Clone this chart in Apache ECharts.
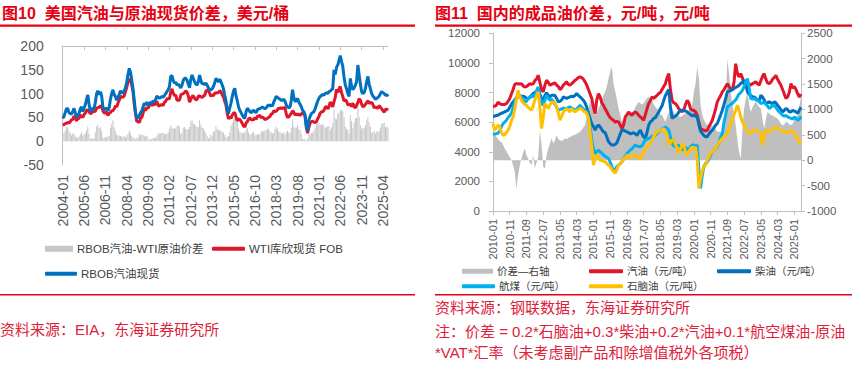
<!DOCTYPE html>
<html><head><meta charset="utf-8">
<script src="https://cdn.jsdelivr.net/npm/echarts@6/dist/echarts.min.js"></script>
<style>html,body{margin:0;padding:0;background:#fff}#c{width:854px;height:369px}</style>
</head><body><div id="c"></div>
<script>
// ---------- categories ----------
function monthLabels(y0, m0, y1, m1) {
  const out = [];
  for (let y = y0, m = m0; y < y1 || (y === y1 && m <= m1); ) {
    out.push(y + '-' + (m < 10 ? '0' + m : m));
    m++; if (m > 12) { m = 1; y++; }
  }
  return out;
}
const usMonths = monthLabels(2004, 1, 2025, 8);
const cnMonths = monthLabels(2010, 1, 2025, 5);

// ---------- Fig 10 : US gasoline vs crude, USD/bbl ----------
const rbobSpot = [
  48,52,60,68,69,60,58,57,62,69,60,50,
  55,58,68,72,62,70,76,88,97,78,62,65,
  70,68,82,100,106,98,104,95,72,66,68,70,
  64,70,88,100,108,98,94,86,92,98,106,102,
  102,106,112,125,140,153,145,128,110,85,60,48,
  50,54,60,64,72,80,76,82,76,78,82,80,
  85,82,88,95,92,90,92,94,92,96,100,104,
  108,115,136,138,128,122,124,118,120,116,112,118,
  128,132,132,128,120,112,130,139,132,125,120,118,
  125,139,128,120,122,118,122,118,112,108,108,110,
  115,122,132,128,125,130,125,118,110,97,85,66,
  58,70,80,94,105,111,95,85,72,65,60,55,
  50,48,62,69,66,62,60,63,65,62,60,66,
  68,68,70,72,70,68,70,74,76,74,76,74,
  82,88,94,92,90,88,86,86,88,84,76,72,
  70,72,86,108,92,83,86,90,82,78,72,65,
  62,55,30,22,45,52,58,60,62,68,76,84,
  90,94,96,98,97,100,102,100,104,105,108,110,
  150,140,155,160,170,180,168,157,135,118,110,100,
  94,132,115,108,112,118,125,160,140,120,104,100,
  102,110,125,136,120,110,100,95,92,88,90,92,
  95,100,104,102,100,96,98,94
];
const wtiSpot = [
  34,35,37,37,40,38,41,45,46,53,48,43,
  47,48,54,53,50,56,59,65,66,62,58,59,
  65,62,63,69,71,71,74,73,64,59,59,62,
  54,59,60,64,64,68,74,72,80,86,95,92,
  93,95,105,113,125,130,128,117,104,77,57,41,
  42,39,48,50,59,70,64,71,69,76,78,75,
  78,76,81,84,74,75,76,77,75,82,84,89,
  89,89,103,110,101,96,97,86,86,86,97,99,
  100,102,106,103,95,82,88,94,95,90,87,88,
  95,95,93,92,95,96,105,107,106,101,94,98,
  95,101,101,102,102,106,104,97,93,84,76,59,
  47,51,48,55,59,60,51,43,46,46,42,37,
  32,30,38,41,47,49,45,45,45,50,46,52,
  53,54,49,51,49,45,47,48,50,52,57,58,
  64,62,63,66,70,68,71,68,70,71,57,50,
  51,55,58,64,61,55,57,55,57,54,57,60,
  58,51,29,17,29,38,41,42,40,39,41,47,
  52,59,62,62,65,71,73,68,72,82,79,72,
  83,92,109,102,110,115,102,94,84,87,84,76,
  78,77,73,80,72,70,76,81,89,86,78,72,
  74,77,81,85,80,80,82,77,70,72,70,70,
  75,71,68,64,61,67,67,65
];
const rbobWtiSpread = [
  14,17,23,31,29,22,17,12,16,16,12,7,
  8,10,14,19,12,14,17,23,31,16,4,6,
  5,6,19,31,35,27,30,22,8,7,9,8,
  10,11,28,36,44,30,20,14,12,12,11,10,
  9,11,7,12,15,23,17,11,6,8,3,7,
  8,15,12,14,13,10,12,11,7,2,4,5,
  7,6,7,11,18,15,16,17,17,14,16,15,
  19,26,33,28,27,26,27,32,34,30,15,19,
  28,30,26,25,25,30,42,45,37,35,33,30,
  30,44,35,28,27,22,17,11,6,7,14,12,
  20,21,31,26,23,24,21,21,17,13,9,7,
  11,19,32,39,46,51,44,42,26,19,18,18,
  18,18,24,28,19,13,15,18,20,12,14,14,
  15,14,21,21,21,23,23,26,26,22,19,16,
  18,26,31,26,20,20,15,18,18,13,19,22,
  19,17,28,44,31,28,29,35,25,24,15,5,
  4,4,1,5,16,14,17,18,22,29,35,37,
  38,35,34,36,32,29,29,32,32,23,29,38,
  67,48,46,58,60,65,66,63,51,31,26,24,
  16,55,42,28,40,48,49,79,51,34,26,28,
  28,33,44,51,40,30,18,18,22,16,20,22,
  20,29,36,38,39,29,31,29
];
const usTicks = [-50, 200, 50];   // min, max, interval

// ---------- Fig 11 : China refined products, CNY/t ----------
const cnCrackSpread = [
  590,520,460,420,380,360,300,230,180,120,66,0,
  -100,-230,-560,-300,-100,33,150,230,100,33,-50,-100,
  100,-165,-50,66,590,300,-130,-165,100,230,330,430,
  330,400,490,420,395,380,400,430,420,440,460,470,
  490,500,520,540,560,600,650,690,850,1020,1150,1220,
  1000,890,950,1020,1090,1200,1280,1350,1450,1610,1750,1840,
  1500,1350,1200,1020,900,760,800,850,890,900,920,950,
  950,1050,1100,1150,1120,1100,1120,1180,1220,1250,1200,1180,
  1100,1050,1020,950,900,890,820,760,850,950,1000,1020,
  950,890,870,860,855,870,900,920,950,980,1020,1100,
  1350,1500,1840,1600,1090,900,790,740,690,690,680,690,
  650,600,560,560,560,560,800,1150,2000,1700,1350,1100,
  900,690,400,165,33,600,1020,1200,1350,1100,950,1050,
  1100,1150,1100,1050,1020,800,625,800,950,920,890,880,
  860,840,820,780,720,690,700,760,740,710,690,720,
  800,850,890,1050,1250
];
const gasoline = [
  7080,7080,7150,7350,7250,7200,7200,7200,7250,7400,7600,7900,
  8200,8550,8600,8600,8580,8600,8450,8380,8400,8500,8600,8550,
  8600,8800,8900,9170,8700,8200,8040,8500,8830,8700,8490,8550,
  8600,8650,8500,8400,8200,8300,8500,8600,8720,8550,8490,8600,
  8700,8830,8900,9000,9050,9000,8900,8720,8500,8200,7900,7600,
  7000,6580,7500,7930,7700,7300,7140,6900,6700,6470,6300,6200,
  6130,6000,6050,6020,5800,5570,5800,6360,6500,6690,6550,6470,
  6600,6690,6600,6470,6350,6250,6130,6500,6900,7260,7450,7700,
  7600,7700,7800,7930,8000,8200,8400,8600,9000,9280,8200,7480,
  7300,7260,7100,6900,6810,6700,6810,7200,7480,7300,6900,6810,
  6800,6700,6470,6000,5570,5500,5460,5400,5460,5700,5900,6130,
  6500,6900,7370,7600,7800,8040,8200,8400,8600,8400,8200,8150,
  8700,9950,9300,9050,9280,9000,8600,8380,8450,8600,8500,8600,
  8650,8720,8600,8490,8800,9100,9280,8900,8650,8600,8700,8900,
  9000,9170,8900,8700,8490,8200,7900,7600,7700,8000,8600,8300,
  8400,8200,7930,7700,7900
];
const diesel = [
  6400,6400,6450,6470,6550,6600,6630,6700,6750,6810,7000,7200,
  7370,7500,7600,7700,7750,7750,7750,7700,7600,7600,7650,7800,
  7930,8000,8100,8270,7900,7600,7480,7800,7990,7800,7700,7820,
  7820,7800,7600,7370,7400,7500,7700,7650,7600,7650,7700,7750,
  7700,7800,7930,7800,7700,7600,7480,7300,7000,6600,6250,5900,
  5700,5460,5700,5800,5680,5500,5350,5300,5000,4670,4550,4450,
  4450,4500,4600,4900,5200,5460,5460,5400,5350,5300,5200,5250,
  5300,5200,5100,5300,5460,5200,5000,4900,5300,5800,6020,6100,
  6250,6300,6500,6690,6900,7100,7480,7800,8000,8200,7000,6250,
  6360,6400,6500,6690,6750,6810,6800,6750,6690,6600,6500,6400,
  6500,6400,6360,5800,5400,5240,5100,5010,5010,5200,5350,5460,
  5600,5800,5910,6200,6500,6810,7200,7600,8040,8100,8150,8200,
  8270,8350,8400,8490,8600,8700,8830,8600,8040,7900,7800,7700,
  7700,7600,7480,7400,7820,7700,7500,7260,7300,7370,7300,7200,
  7370,7300,7140,7000,6850,6690,6800,6920,6850,6700,6690,6800,
  6750,6690,6600,6800,7000
];
const jetFuel = [
  5190,5200,5230,5250,5400,5680,5900,6000,6130,6300,6450,6580,
  7000,7400,7700,7750,7820,7700,7500,7370,7400,7600,7700,7800,
  7700,7850,8100,8380,7700,7300,7140,7500,7820,7600,7480,7550,
  7400,7200,7000,6810,6850,6900,6950,6920,6900,7000,7030,6950,
  6900,6810,6900,7000,7140,7000,6900,6810,6700,6300,5680,4800,
  4200,3890,4000,4110,4000,3900,3780,3700,3600,3550,3300,3000,
  2650,2800,3000,3100,3200,3320,3500,3700,3890,4000,4110,4200,
  4330,4450,4400,4350,4330,4400,4600,4790,4850,4900,4950,5050,
  5000,5120,5250,5350,5460,5550,5600,5680,5600,5460,5000,4560,
  4400,4330,4400,4450,4300,4110,4200,4330,4110,4200,4330,4450,
  4450,4400,4450,2800,1530,2400,3000,3210,3300,3500,3780,4000,
  4100,4200,4330,4600,5000,5240,6000,6500,7030,7100,7200,7260,
  7400,7500,7700,7900,8000,8150,8400,8700,8940,8300,7600,7550,
  7600,7500,7480,7400,7260,7300,7370,7200,7100,6920,7000,7140,
  7100,7000,6810,6700,6600,6470,6400,6450,6360,6300,6250,6200,
  6360,6250,6130,6200,6400
];
const naphtha = [
  5910,5460,5600,5800,5700,5300,5120,5150,5300,5460,5700,6100,
  6360,6900,7500,8150,7700,7480,7300,7200,7140,7000,6900,6810,
  7100,7500,7800,8040,7000,5570,6300,7260,7100,6920,7150,7370,
  7300,7370,7000,6600,6130,6400,6690,6800,6920,6800,6700,6920,
  6800,6690,6800,6850,6920,6900,6750,6700,6580,6300,5300,4400,
  3100,3500,3780,3600,3440,3400,3350,3320,3200,3100,3000,2800,
  2700,2540,2800,3100,3200,3320,3500,3600,3780,3700,3550,3700,
  3800,3780,3700,3600,3500,3700,4000,4230,4350,4450,4560,4800,
  5010,5200,5350,5400,5460,5500,5570,5300,5100,4450,4600,4790,
  4790,4500,4200,3890,4200,4560,4400,4000,3780,4000,4200,4330,
  4200,4330,3500,1530,2200,2700,3000,3100,3400,3670,3900,4000,
  4100,4230,4400,4600,4790,4900,5000,5010,5300,5500,5800,6200,
  6500,6810,7140,6800,6360,6000,5800,5570,5400,5240,5300,5400,
  5460,5460,5350,5300,5240,4450,5000,5460,5400,5350,5450,5550,
  5600,5680,5600,5500,5460,5400,5350,5300,5350,5400,5350,5350,
  5300,5000,4900,4560,4700
];
const cnLeftTicks = [0, 12000, 2000];
const cnRightTicks = [-1000, 2500, 500];

// ---------- styling ----------
const FONT = '"Liberation Sans","Noto Sans CJK SC",sans-serif';
const RED = '#e0162b', BLUE = '#0070c0', LBLUE = '#00b0f0', YEL = '#ffc000', GREY = '#bfbfbf';
const AXIS = '#bfbfbf', LABEL = '#595959', TXT = '#404040', TITLE = '#e60012';
const plain = function (v) { return String(v); };

const chart = echarts.init(document.getElementById('c'), null, {renderer: 'svg'});

function legendItem(name, left, top, w, h, icon, fs) {
  return {
    data: [name], left: left, top: top, padding: 0, itemWidth: w, itemHeight: h,
    icon: icon, selectedMode: false,
    textStyle: {fontSize: fs, color: TXT, fontFamily: FONT, padding: [0, 0, 0, -1]}
  };
}
function txt(x, y, s, size, color, weight) {
  return {type: 'text', x: x, y: y, silent: true,
    style: {text: s, fill: color, font: (weight || 'normal') + ' ' + size + 'px ' + FONT, verticalAlign: 'middle', align: 'left'}};
}
function bar(x, y, w, h) {
  return {type: 'rect', silent: true, shape: {x: x, y: y, width: w, height: h}, style: {fill: TITLE}};
}

const option = {
  animation: false,
  backgroundColor: '#fff',
  textStyle: {fontFamily: FONT},
  graphic: [
    txt(2, 13, '图10  美国汽油与原油现货价差，美元/桶', 16, TITLE, 'bold'),
    txt(435, 13, '图11  国内的成品油价差，元/吨，元/吨', 16, TITLE, 'bold'),
    bar(0, 24.5, 415, 2.2),
    bar(435, 24.5, 417, 2.2),
    bar(0, 294, 415, 1.6),
    bar(435, 294, 417, 1.6),
    txt(0, 329, '资料来源：EIA，东海证券研究所', 15, '#e0203a'),
    txt(435, 307, '资料来源：钢联数据，东海证券研究所', 15, '#e0203a'),
    txt(435, 331, '注：价差 = 0.2*石脑油+0.3*柴油+0.2*汽油+0.1*航空煤油-原油', 15, '#e0203a'),
    txt(435, 352, '*VAT*汇率（未考虑副产品和除增值税外各项税）', 15, '#e0203a')
  ],
  legend: [
    legendItem('RBOB汽油-WTI原油价差', 45, 243, 28, 6, 'rect', 11.5),
    legendItem('WTI库欣现货 FOB', 212, 243, 33, 4, 'roundRect', 11.5),
    legendItem('RBOB汽油现货', 45, 268, 32, 4, 'roundRect', 11.5),
    legendItem('价差—右轴', 462, 266, 31, 5, 'rect', 10.5),
    legendItem('汽油（元/吨）', 589, 266, 34, 4, 'roundRect', 10.5),
    legendItem('柴油（元/吨）', 717, 266, 34, 4, 'roundRect', 10.5),
    legendItem('航煤（元/吨）', 462, 281, 33, 4, 'roundRect', 10.5),
    legendItem('石脑油（元/吨）', 589, 281, 34, 4, 'roundRect', 10.5)
  ],
  grid: [
    {left: 62.7, right: 466, top: 46, bottom: 204, containLabel: false},
    {left: 493, right: 53, top: 33.3, bottom: 158, containLabel: false}
  ],
  xAxis: [
    {gridIndex: 0, type: 'category', data: usMonths, boundaryGap: false,
     axisLine: {show: false}, axisTick: {show: false},
     axisLabel: {rotate: 90, interval: 16, fontSize: 14, color: LABEL, margin: 10, fontFamily: FONT}},
    {gridIndex: 0, type: 'category', data: usMonths, boundaryGap: false, position: 'top',
     axisLine: {show: true, onZero: true, lineStyle: {color: AXIS, width: 1}},
     axisTick: {show: true, interval: 16, inside: true, length: 4, lineStyle: {color: AXIS}},
     axisLabel: {show: false}},
    {gridIndex: 1, type: 'category', data: cnMonths, boundaryGap: false,
     axisLine: {show: true, onZero: false, lineStyle: {color: AXIS}},
     axisTick: {show: true, interval: 9, length: 4, lineStyle: {color: AXIS}},
     axisLabel: {rotate: 90, interval: 9, fontSize: 11, color: LABEL, margin: 8, fontFamily: FONT}}
  ],
  yAxis: [
    {gridIndex: 0, type: 'value', min: usTicks[0], max: usTicks[1], interval: usTicks[2],
     axisLine: {show: true, lineStyle: {color: AXIS}}, axisTick: {show: false}, splitLine: {show: false},
     axisLabel: {fontSize: 14, color: LABEL, margin: 19, fontFamily: FONT, formatter: plain}},
    {gridIndex: 1, type: 'value', position: 'left', min: cnLeftTicks[0], max: cnLeftTicks[1], interval: cnLeftTicks[2],
     axisLine: {show: true, lineStyle: {color: AXIS}}, axisTick: {show: true, length: 4, lineStyle: {color: AXIS}},
     splitLine: {show: false},
     axisLabel: {fontSize: 11.5, color: LABEL, margin: 13, fontFamily: FONT, formatter: plain}},
    {gridIndex: 1, type: 'value', position: 'right', min: cnRightTicks[0], max: cnRightTicks[1], interval: cnRightTicks[2],
     axisLine: {show: true, lineStyle: {color: AXIS}}, axisTick: {show: true, length: 4, lineStyle: {color: AXIS}},
     splitLine: {show: false},
     axisLabel: {fontSize: 11.5, color: LABEL, margin: 6, fontFamily: FONT, formatter: plain}}
  ],
  series: [
    {name: 'RBOB汽油-WTI原油价差', type: 'bar', xAxisIndex: 0, yAxisIndex: 0, data: rbobWtiSpread,
     barWidth: '55%', itemStyle: {color: '#c6c6c6'}},
    {name: 'WTI库欣现货 FOB', type: 'line', xAxisIndex: 0, yAxisIndex: 0, data: wtiSpot,
     showSymbol: false, symbol: 'none', lineStyle: {color: RED, width: 3}, itemStyle: {color: RED}},
    {name: 'RBOB汽油现货', type: 'line', xAxisIndex: 0, yAxisIndex: 0, data: rbobSpot,
     showSymbol: false, symbol: 'none', lineStyle: {color: BLUE, width: 3}, itemStyle: {color: BLUE}},

    {name: '价差—右轴', type: 'line', xAxisIndex: 2, yAxisIndex: 2, data: cnCrackSpread,
     showSymbol: false, symbol: 'none', lineStyle: {width: 0, color: GREY}, itemStyle: {color: GREY},
     areaStyle: {color: GREY, opacity: 1}},
    {name: '汽油（元/吨）', type: 'line', xAxisIndex: 2, yAxisIndex: 1, data: gasoline,
     showSymbol: false, symbol: 'none', lineStyle: {color: RED, width: 3}, itemStyle: {color: RED}},
    {name: '柴油（元/吨）', type: 'line', xAxisIndex: 2, yAxisIndex: 1, data: diesel,
     showSymbol: false, symbol: 'none', lineStyle: {color: BLUE, width: 3}, itemStyle: {color: BLUE}},
    {name: '航煤（元/吨）', type: 'line', xAxisIndex: 2, yAxisIndex: 1, data: jetFuel,
     showSymbol: false, symbol: 'none', lineStyle: {color: LBLUE, width: 3}, itemStyle: {color: LBLUE}},
    {name: '石脑油（元/吨）', type: 'line', xAxisIndex: 2, yAxisIndex: 1, data: naphtha,
     showSymbol: false, symbol: 'none', lineStyle: {color: YEL, width: 3}, itemStyle: {color: YEL}}
  ]
};
chart.setOption(option);
</script></body></html>
